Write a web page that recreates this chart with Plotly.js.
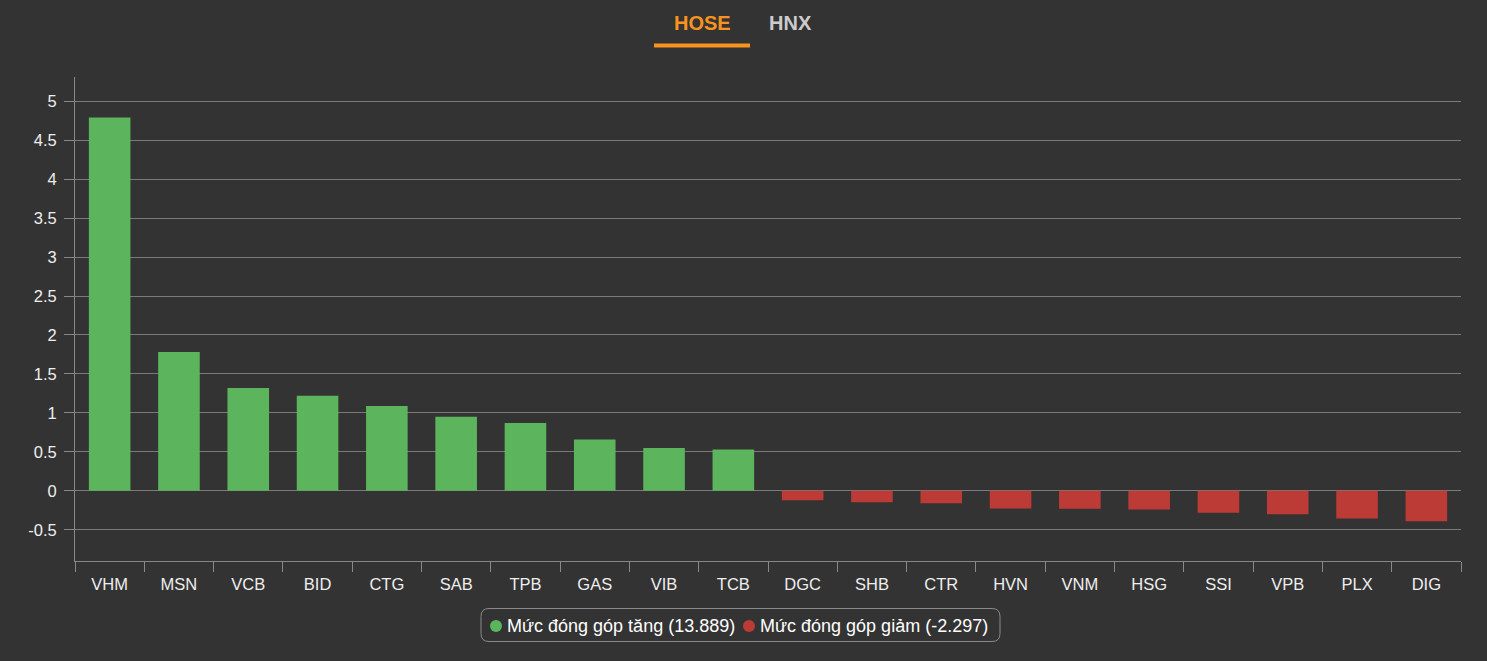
<!DOCTYPE html>
<html>
<head>
<meta charset="utf-8">
<script src="https://cdn.plot.ly/plotly-3.0.1.min.js"></script>
<style>
html,body{margin:0;padding:0;background:#333333;}
#chart{width:1487px;height:661px;}
</style>
</head>
<body>
<div id="chart"></div>
<script>
const upCategories = ["VHM","MSN","VCB","BID","CTG","SAB","TPB","GAS","VIB","TCB"];
const upValues = [4.79, 1.78, 1.32, 1.22, 1.09, 0.95, 0.87, 0.66, 0.55, 0.53];
const downCategories = ["DGC","SHB","CTR","HVN","VNM","HSG","SSI","VPB","PLX","DIG"];
const downValues = [-0.12, -0.145, -0.16, -0.225, -0.23, -0.24, -0.28, -0.30, -0.355, -0.39];
const upTotal = "13.889";
const downTotal = "-2.297";
const upLabel = "Mức đóng góp tăng (" + upTotal + ")";
const downLabel = "Mức đóng góp giảm (" + downTotal + ")";
const tabs = ["HOSE", "HNX"];
const yTicks = [-0.5, 0, 0.5, 1, 1.5, 2, 2.5, 3, 3.5, 4, 4.5, 5];

const green = "#5cb55d";
const red = "#bd3b37";
const textColor = "#eeeeee";
const grid = "#7a7a7a";

// plot area in pixels: x 75..1461, y 77..561
const W = 1386, H = 484;
const px = X => (X - 75) / W;
const py = Y => (561 - Y) / H;

function roundRect(x0, y0, x1, y1, r) {
  const rx = r / W, ry = r / H;
  const a = px(x0), b = px(x1), top = py(y0), bot = py(y1);
  return `M${a+rx},${top} L${b-rx},${top} Q${b},${top} ${b},${top-ry} L${b},${bot+ry} Q${b},${bot} ${b-rx},${bot} L${a+rx},${bot} Q${a},${bot} ${a},${bot+ry} L${a},${top-ry} Q${a},${top} ${a+rx},${top} Z`;
}

const traces = [
  {type:"bar", x:upCategories, y:upValues, marker:{color:green}, name:upLabel, showlegend:false, hoverinfo:"x+y"},
  {type:"bar", x:downCategories, y:downValues, marker:{color:red}, name:downLabel, showlegend:false, hoverinfo:"x+y"}
];

const layout = {
  width:1487, height:661,
  paper_bgcolor:"#333333", plot_bgcolor:"#333333",
  font:{family:"Liberation Sans, Arial, sans-serif", size:16, color:textColor},
  margin:{l:75, r:26, t:77, b:100},
  barmode:"relative",
  bargap:0.4,
  showlegend:false,
  xaxis:{type:"category", categoryorder:"array", categoryarray:upCategories.concat(downCategories),
         showline:true, linecolor:"#888888", linewidth:1,
         ticks:"outside", tickson:"boundaries", ticklen:10, tickcolor:"#888888",
         ticklabelstandoff:8,
         showgrid:false, tickfont:{size:16.5, color:textColor}, fixedrange:true},
  yaxis:{range:[-0.9, 5.31], tickvals:yTicks, ticktext:yTicks.map(String),
         showline:true, linecolor:"#888888", linewidth:1,
         ticks:"outside", ticklen:10, tickcolor:"#888888",
         ticklabelstandoff:4,
         gridcolor:grid, gridwidth:1, zeroline:true, zerolinecolor:grid, zerolinewidth:1,
         tickfont:{size:16.5, color:textColor}, fixedrange:true},
  annotations:[
    {text:"<b>"+tabs[0]+"</b>", xref:"paper", yref:"paper", x:px(702), y:py(22.5), showarrow:false,
     font:{size:20, color:"#f7931e"}, xanchor:"center", yanchor:"middle"},
    {text:"<b>"+tabs[1]+"</b>", xref:"paper", yref:"paper", x:px(790), y:py(22.5), showarrow:false,
     font:{size:20, color:"#cccccc"}, xanchor:"center", yanchor:"middle"},
    {text:upLabel, xref:"paper", yref:"paper", x:px(505), y:py(625.5), showarrow:false,
     font:{size:18, color:"#ffffff"}, xanchor:"left", yanchor:"middle"},
    {text:downLabel, xref:"paper", yref:"paper", x:px(758), y:py(625.5), showarrow:false,
     font:{size:18, color:"#ffffff"}, xanchor:"left", yanchor:"middle"}
  ],
  shapes:[
    {type:"line", xref:"paper", yref:"paper", x0:px(654), x1:px(750), y0:py(45.5), y1:py(45.5),
     line:{color:"#f7931e", width:4}},
    {type:"path", xref:"paper", yref:"paper", path:roundRect(481, 608.5, 1000, 641.5, 8),
     line:{color:"#8a8a8a", width:1}, fillcolor:"rgba(0,0,0,0)"},
    {type:"circle", xref:"paper", yref:"paper", x0:px(490), x1:px(502), y0:py(632), y1:py(620),
     fillcolor:green, line:{width:0}},
    {type:"circle", xref:"paper", yref:"paper", x0:px(743), x1:px(755), y0:py(632), y1:py(620),
     fillcolor:red, line:{width:0}}
  ]
};

Plotly.newPlot("chart", traces, layout, {displayModeBar:false});
</script>
</body>
</html>
